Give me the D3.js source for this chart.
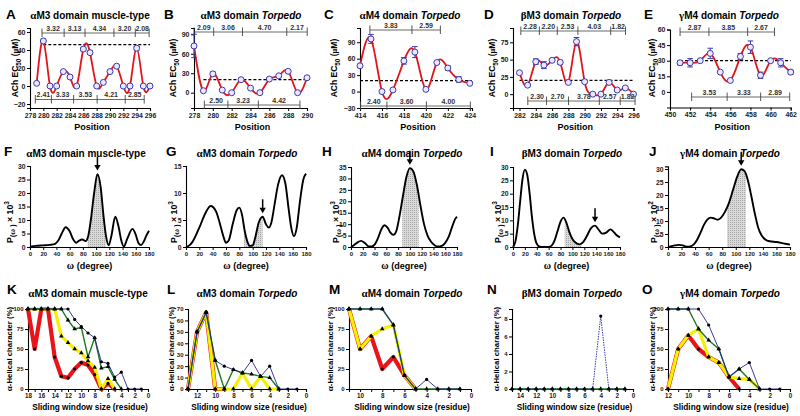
<!DOCTYPE html>
<html><head><meta charset="utf-8">
<script src="https://cdn.jsdelivr.net/npm/d3@7"></script>
<style>
html,body{margin:0;padding:0;background:#fff;overflow:hidden;}
</style></head><body>
<svg id="c" width="800" height="416"></svg>
<script>
// ---------- Row 1: ACh EC50 scans ----------
const aPos = [279,280,281,282,283,284,285,286,287,288,289,290,291,292,293,294,295,296];
const aVal = [3,50,0,0,16,10,0,41,37,0,4,16,22,0,0,42,0,0];
const aErr = [0,2,0,0,1,1,0,2,2,0,0,1,1,0,0,2,0,0];
const aThreshold = 46;
const aTopStart = 279.8, aTopGaps = [3.32,3.13,4.34,3.20,2.08];
const aBotStart = 278.8, aBotGaps = [2.41,3.33,3.53,4.21,2.85];

const bPos = [278,279,280,281,282,283,284,285,286,287,288,289,290];
const bVal = [72,3,29,4,0,20,7,0,21,26,33,0,23];
const bErr = [18,0,3,0,0,0,0,0,2,0,0,0,0];
const bThreshold = 20;
const bTopStart = 278.0, bTopGaps = [2.09,3.06,4.70,2.17];
const bBotStart = 279.1, bBotGaps = [2.50,3.23,4.42];

const cPos = [414,415,416,417,418,419,420,421,422,423,424];
const cVal = [47,96,0,3,56,72,4,53,43,22,15];
const cErr = [3,8,0,0,6,10,0,0,4,5,0];
const cThreshold = 20;
const cTopStart = 414.9, cTopGaps = [3.83,2.59];
const cBotStart = 414.05, cBotGaps = [2.40,3.60,4.00];

const dPos = [282,283,284,285,286,287,288,289,290,291,292,293,294,295,296];
const dVal = [31,13,47,42,49,46,17,76,18,0,0,17,6,9,0];
const dErr = [0,0,4,5,0,3,0,6,0,0,0,2,0,0,0];
const dThreshold = 20;
const dTopStart = 282.16, dTopGaps = [2.28,2.20,2.53,4.03,1.82];
const dBotStart = 283.02, dBotGaps = [2.30,2.70,3.78,2.57,1.82];

const ePos = [451,452,453,454,455,456,457,458,459,460,461,462];
const eVal = [28,28,30,37,19,11,34,43,16,30,28,19];
const eErr = [2,4,0,5,0,0,3,6,3,0,4,2];
const eThreshold = 30;
const eTopStart = 451.0, eTopGaps = [2.87,3.85,2.67];
const eBotStart = 452.15, eBotGaps = [3.53,3.33,2.89];

// ---------- Row 2: power spectra P(omega) ----------
const fDeg = [0,5,10,20,30,38,43,48,54,60,65,70,74,79,84,88,92,97,102,107,111,115,119,123,129,134,138,142,147,155,160,164,168,172,176,180];
const fP   = [0,0.3,0.45,0.6,0.8,1.2,2.5,5,7.3,5.8,3,1.6,2.3,2.8,2.2,4,10,20,27,22,12,4,0.6,4,11.2,7.5,2.5,0.2,3,6.7,4.5,1.5,0.7,2,4.2,6];
const fArrow = 102;

const gDeg = [0,5,10,20,30,37,45,52,56,60,64,70,76,80,84,88,92,96,100,104,109,115,120,124,128,133,138,144,149,154,158,162,166,171,176,180];
const gP   = [0,0.3,1,3.6,6.5,7.6,6.6,3.8,2,0.8,1.2,4.2,6.8,7.3,6,3,1,0.2,0.3,1.8,4.5,5.6,4.2,3.6,4.5,8,11.5,13.3,11.8,7,3.5,2,3.5,8.5,12.5,13.6];
const gArrow = 115;

const hDeg = [0,5,10,17,24,30,35,40,46,52,57,62,67,72,77,82,88,94,100,106,112,118,124,130,136,142,148,154,160,166,172,177,180];
const hP   = [0,0.8,1.8,2.7,1.6,0.3,0.2,1,4,8,9.5,8.5,6.3,5.3,7,13,22,30.5,34.5,33,27,18,10,5,2.3,0.8,0.2,0.5,1.8,4.5,9,12.3,13.2];
const hArrow = 100;

const iDeg = [0,4,8,12,16,20,24,28,32,36,40,45,50,60,65,70,75,80,85,90,95,100,105,112,118,124,131,138,144,150,156,164,170,175,180];
const iP   = [0,2,8,17,25.5,29,27,20,11,4.5,1.2,0.1,0,0,0.5,2.5,6,9.5,11,9,5.5,3,1.7,1,1.8,4,7,8,6.5,5,5.3,6.6,5.5,4.3,3.6];
const iArrow = 138;

const jDeg = [0,5,10,16,22,28,33,38,43,48,53,58,63,68,73,78,84,90,96,102,108,113,118,123,128,133,138,144,150,160,170,180];
const jP   = [0,0.3,0.6,0.8,0.6,0.1,0.2,1,2.8,5.5,8.5,10.5,11.3,11,10.5,11.2,13.5,17,22,27,29.9,29.2,25.5,19.5,13,7.5,4.5,2.8,2.2,1.9,1.4,0.9];
const jArrow = 108;

const bandRange = [87, 115];

// ---------- Row 3: alpha-helical character ----------
const kWin    = [18,17,16,15,14,13,12,11,10,9,8,7,6,5,4,3,2,1];
const kRed    = [100,50,100,100,40,16,14,25,33,30,18,0,7,0,null,null,null,null];
const kYellow = [100,100,100,100,100,66,58,50,45,35,27,0,13,0,null,null,null,null];
const kGreen  = [100,100,100,100,100,100,86,75,77,40,64,26,28,12,0,null,null,null];
const kBlue   = [100,100,100,100,100,100,100,87,78,70,64,34,32,15,21,0,0,0];

const lWin    = [13,12,11,10,9,8,7,6,5,4,3,2,1];
const lRed    = [0,50,67,0,0,null,null,null,null,null,null,null,null];
const lYellow = [0,50,67,0,0,0,14,0,11,0,0,null,null];
const lGreen  = [0,50,67,25,0,17,14,13,11,10,0,null,null];
const lBlue   = [0,50,67,25,20,17,14,25,11,20,0,0,0];

const mWin    = [11,10,9,8,7,6,5,4,3,2,1];
const mRed    = [100,50,66,25,40,17,0,null,null,null,null];
const mYellow = [100,50,66,75,80,17,0,null,null,null,null];
const mGreen  = [100,100,100,100,80,17,0,0,0,0,0];
const mBlue   = [100,100,100,100,80,17,0,12,0,0,0];

const nWin    = [15,14,13,12,11,10,9,8,7,6,5,4,3,2,1];
const nGreen  = [0,0,0,0,0,0,0,0,0,0,0,0,0,0,0];
const nBlue   = [0,0,0,0,0,0,0,0,0,0,0,8.33,0,0,0];

const oWin    = [12,11,10,9,8,7,6,5,4,3,2,1];
const oRed    = [0,50,67,50,40,33,15,0,null,null,null,null];
const oYellow = [0,50,67,75,40,33,15,13,12,0,null,null];
const oGreen  = [100,100,100,75,61,50,15,25,12,0,null,null];
const oBlue   = [100,100,100,100,80,50,15,25,33,0,0,0];

// ---------- drawing ----------
const FONT = '"Liberation Sans", Arial, Helvetica, sans-serif';
const SERIF = '"Liberation Serif", "Times New Roman", serif';
const svg = d3.select("#c");

const defs = svg.append("defs");
const pat = defs.append("pattern").attr("id","dots").attr("patternUnits","userSpaceOnUse").attr("width",2).attr("height",2);
pat.append("rect").attr("width",2).attr("height",2).attr("fill","#d9d9d9");
pat.append("rect").attr("width",1).attr("height",1).attr("fill","#a8a8a8");

function styleAxis(g, fs) {
  g.attr("font-family", FONT).attr("font-size", fs).attr("font-weight", "bold");
  g.selectAll("path.domain").attr("stroke", "#000").attr("stroke-width", 1.1);
  g.selectAll(".tick line").attr("stroke", "#000").attr("stroke-width", 1);
  g.selectAll(".tick text").attr("fill", "#222");
}

function drawAxes(x, y, xTicks, yTicks, fsx, fsy, xFmt) {
  const x0 = Math.min(...x.range()), yb = Math.max(...y.range());
  const xa = d3.axisBottom(x).tickValues(xTicks).tickSizeOuter(0).tickSize(3).tickPadding(2);
  if (xFmt) xa.tickFormat(xFmt);
  const ya = d3.axisLeft(y).tickValues(yTicks).tickSizeOuter(0).tickSize(3).tickPadding(1.5);
  svg.append("g").attr("transform", `translate(0,${yb})`).call(xa).call(g => styleAxis(g, fsx));
  svg.append("g").attr("transform", `translate(${x0},0)`).call(ya).call(g => styleAxis(g, fsy));
}

function letter(x, y, s) {
  svg.append("text").attr("x", x).attr("y", y).attr("font-family", FONT).attr("font-weight","bold")
    .attr("font-size", 13.5).text(s);
}
function title(cx, y, greek, rest, ital) {
  const t = svg.append("text").attr("x", cx).attr("y", y).attr("text-anchor","middle")
    .attr("font-family", FONT).attr("font-weight","bold").attr("font-size", 10);
  t.append("tspan").attr("font-family", SERIF).attr("font-size", 11).text(greek);
  t.append("tspan").text(rest);
  if (ital) t.append("tspan").attr("font-style","italic").text(ital);
}
function xTitle(cx, y, parts, fs) {
  const t = svg.append("text").attr("x", cx).attr("y", y).attr("text-anchor","middle")
    .attr("font-family", FONT).attr("font-weight","bold").attr("font-size", fs);
  parts.forEach(p => { const s = t.append("tspan").text(p.t); if (p.serif) s.attr("font-family", SERIF).attr("font-size", fs + 1); });
}
function yTitle(x, cy, build, fs) {
  const t = svg.append("text").attr("transform", `translate(${x},${cy}) rotate(-90)`).attr("text-anchor","middle")
    .attr("font-family", FONT).attr("font-weight","bold").attr("font-size", fs);
  build(t);
}

// ---- Row 1 ----
function bracket(x, start, gaps, yLine) {
  const bounds = [start];
  gaps.forEach(g => bounds.push(bounds[bounds.length - 1] + g));
  const g = svg.append("g");
  g.append("line").attr("x1", x(bounds[0])).attr("x2", x(bounds[bounds.length-1]))
    .attr("y1", yLine).attr("y2", yLine).attr("stroke", "#444").attr("stroke-width", 0.8);
  bounds.forEach(b => g.append("line").attr("x1", x(b)).attr("x2", x(b)).attr("y1", yLine - 4.5).attr("y2", yLine + 4)
    .attr("stroke", "#444").attr("stroke-width", 0.9));
  gaps.forEach((gp, i) => g.append("text").attr("x", (x(bounds[i]) + x(bounds[i+1])) / 2).attr("y", yLine - 2.2)
    .attr("text-anchor","middle").attr("font-family", FONT).attr("font-weight","bold").attr("font-size", 7)
    .attr("fill", "#333").text(d3.format(".2f")(gp)));
}

function scan(p) {
  const x = d3.scaleLinear().domain(p.xd).range(p.xr);
  const y = d3.scaleLinear().domain(p.yd).range(p.yr);
  drawAxes(x, y, p.xTicks, p.yTicks, 6.9, 7);
  svg.append("line").attr("x1", x(p.dash[0])).attr("x2", x(p.dash[1]))
    .attr("y1", y(p.thr)).attr("y2", y(p.thr)).attr("stroke", "#000").attr("stroke-width", 1.3).attr("stroke-dasharray", "3,2");
  const data = d3.zip(p.pos, p.val, p.err);
  svg.append("path").datum(data).attr("fill","none").attr("stroke","#e0161c").attr("stroke-width",1.8)
    .attr("d", d3.line().x(d => x(d[0])).y(d => y(d[1])).curve(d3.curveNatural));
  const eb = svg.append("g").attr("stroke", "#3a3ab0").attr("stroke-width", 1);
  data.filter(d => d[2] > 0).forEach(d => {
    eb.append("line").attr("x1", x(d[0])).attr("x2", x(d[0])).attr("y1", y(d[1]-d[2])).attr("y2", y(d[1]+d[2]));
    [d[1]-d[2], d[1]+d[2]].forEach(v => eb.append("line").attr("x1", x(d[0])-2.8).attr("x2", x(d[0])+2.8).attr("y1", y(v)).attr("y2", y(v)));
  });
  svg.append("g").selectAll("circle").data(data).join("circle")
    .attr("cx", d => x(d[0])).attr("cy", d => y(d[1])).attr("r", 3)
    .attr("fill", "#ece7fb").attr("stroke", "#3a3ab0").attr("stroke-width", 1);
  bracket(x, p.top[0], p.top[1], p.topY);
  bracket(x, p.bot[0], p.bot[1], p.botY);
  letter(p.letter[0], 18.5, p.letter[1]);
  title(p.tx, 18.5, p.title[0], p.title[1], p.title[2]);
  xTitle((p.xr[0] + p.xr[1]) / 2 + 2, 130, [{t: "Position"}], 9);
  yTitle(p.ylx, 68, t => {
    t.append("tspan").text("ACh EC");
    t.append("tspan").attr("font-size", 6.3).attr("dy", 2.5).text("50");
    t.append("tspan").attr("dy", -2.5).text(" (");
    t.append("tspan").attr("font-family", SERIF).text("μ");
    t.append("tspan").text("M)");
  }, 8.5);
}
const ev = (a, b) => d3.range(a, b + 0.001, 2);

scan({pos:aPos,val:aVal,err:aErr,thr:aThreshold,dash:[280,296],top:[aTopStart,aTopGaps],bot:[aBotStart,aBotGaps],
  xd:[278,296],xr:[30,150],yd:[-24.4,64.4],yr:[108,28],xTicks:ev(278,296),yTicks:[-20,0,20,40,60],
  topY:33,botY:99.5,letter:[6,"A"],tx:90,title:["α","M3 domain muscle-type",""],ylx:18});
scan({pos:bPos,val:bVal,err:bErr,thr:bThreshold,dash:[279,290],top:[bTopStart,bTopGaps],bot:[bBotStart,bBotGaps],
  xd:[278,290],xr:[194,307],yd:[-23.6,99.7],yr:[108,28],xTicks:ev(278,290),yTicks:[0,30,60,90],
  topY:32,botY:105,letter:[164,"B"],tx:251,title:["α","M3 domain  ","Torpedo"],ylx:176});
scan({pos:cPos,val:cVal,err:cErr,thr:cThreshold,dash:[414,424.2],top:[cTopStart,cTopGaps],bot:[cBotStart,cBotGaps],
  xd:[414,424.2],xr:[360,472],yd:[-30,116],yr:[108,28],xTicks:ev(414,424),yTicks:[-30,0,30,60,90],
  topY:30,botY:106,letter:[324,"C"],tx:410,title:["α","M4 domain  ","Torpedo"],ylx:337});
scan({pos:dPos,val:dVal,err:dErr,thr:dThreshold,dash:[282,296],top:[dTopStart,dTopGaps],bot:[dBotStart,dBotGaps],
  xd:[281.2,296],xr:[513,633.5],yd:[-20,95.7],yr:[108,28],xTicks:ev(282,296),yTicks:[0,25,50,75],
  topY:31,botY:101,letter:[484,"D"],tx:571,title:["β","M3 domain  ","Torpedo"],ylx:495});
scan({pos:ePos,val:eVal,err:eErr,thr:eThreshold,dash:[451,462],top:[eTopStart,eTopGaps],bot:[eBotStart,eBotGaps],
  xd:[450,462],xr:[670,790.7],yd:[-15,60],yr:[107.5,29.5],xTicks:ev(450,462),yTicks:[0,15,30,45,60],
  topY:32,botY:97,letter:[644,"E"],tx:729,title:["γ","M4 domain  ","Torpedo"],ylx:655});

// ---- Row 2 ----
let clipId = 0;
function spectrum(p) {
  const x = d3.scaleLinear().domain([0,180]).range(p.xr);
  const y = d3.scaleLinear().domain(p.yd).range([247, p.yTop]);
  const data = d3.zip(p.deg, p.val);
  const id = "clip" + (clipId++);
  defs.append("clipPath").attr("id", id).append("rect")
    .attr("x", x(bandRange[0])).attr("width", x(bandRange[1]) - x(bandRange[0])).attr("y", 0).attr("height", 416);
  svg.append("path").datum(data).attr("clip-path", `url(#${id})`).attr("fill", "url(#dots)")
    .attr("d", d3.area().x(d => x(d[0])).y0(y(0)).y1(d => y(d[1])).curve(d3.curveMonotoneX));
  drawAxes(x, y, d3.range(0, 181, 20), p.yTicks, 6, 6.8);
  svg.append("path").datum(data).attr("fill","none").attr("stroke","#000").attr("stroke-width",1.9)
    .attr("d", d3.line().x(d => x(d[0])).y(d => y(d[1])).curve(d3.curveMonotoneX));
  // arrow
  const i = d3.bisector(d => d[0]).left(data, p.arrow);
  const a = data[Math.max(i-1,0)], b = data[i];
  const v = b[0] === a[0] ? b[1] : a[1] + (b[1]-a[1]) * (p.arrow - a[0]) / (b[0]-a[0]);
  const ax = x(p.arrow), tip = y(v) - 3.5;
  svg.append("line").attr("x1", ax).attr("x2", ax).attr("y1", tip - 14).attr("y2", tip - 4).attr("stroke","#000").attr("stroke-width",1.5);
  svg.append("path").attr("d", `M${ax-3.2},${tip-5.5}L${ax+3.2},${tip-5.5}L${ax},${tip}Z`).attr("fill","#000");
  letter(p.letter[0], 156, p.letter[1]);
  title(p.tx, 157, p.title[0], p.title[1], p.title[2]);
  xTitle((p.xr[0] + p.xr[1]) / 2, 268.5, [{t:"ω", serif:true},{t:"  (degree)"}], 9);
  yTitle(p.ylx, 222, t => {
    t.append("tspan").text("P");
    t.append("tspan").attr("font-size", 7).attr("dy", 1.5).text("(");
    t.append("tspan").attr("font-family", SERIF).attr("font-size", 8).text("ω");
    t.append("tspan").attr("font-size", 7).text(" )");
    t.append("tspan").attr("dy", -1.5).text(" × 10");
    t.append("tspan").attr("font-size", 6.5).attr("dy", -4).text(p.exp);
  }, 8.8);
}
spectrum({deg:fDeg,val:fP,arrow:fArrow,xr:[30,149],yd:[0,30],yTop:166,yTicks:[0,5,10,15,20,25,30],
  letter:[4,"F"],tx:86,title:["α","M3 domain muscle-type",""],ylx:13,exp:"3"});
spectrum({deg:gDeg,val:gP,arrow:gArrow,xr:[186,306],yd:[0,15],yTop:166,yTicks:[0,5,10,15],
  letter:[166,"G"],tx:247,title:["α","M3 domain  ","Torpedo"],ylx:177,exp:"3"});
spectrum({deg:hDeg,val:hP,arrow:hArrow,xr:[351,457],yd:[0,35],yTop:167,yTicks:[0,5,10,15,20,25,30,35],
  letter:[322,"H"],tx:412,title:["α","M4 domain  ","Torpedo"],ylx:339,exp:"3"});
spectrum({deg:iDeg,val:iP,arrow:iArrow,xr:[513,620],yd:[0,30],yTop:167,yTicks:[0,5,10,15,20,25,30],
  letter:[490,"I"],tx:572,title:["β","M3 domain  ","Torpedo"],ylx:501,exp:"3"});
spectrum({deg:jDeg,val:jP,arrow:jArrow,xr:[668,790],yd:[0,31],yTop:166.4,yTicks:[0,5,10,15,20,25,30],
  letter:[649,"J"],tx:730,title:["γ","M4 domain  ","Torpedo"],ylx:657,exp:"2"});

// ---- Row 3 ----
function helix(p) {
  const x = d3.scaleLinear().domain([p.win[0], 0]).range(p.xr);
  const y = d3.scaleLinear().domain(p.yd).range([389, 309]);
  drawAxes(x, y, d3.range(0, p.win[0] + 1), p.yTicks, 6.3, 6, d => d % 2 === 0 ? d : "");
  const series = [
    {v: p.red, c: "#e8141a", w: 4.2, m: "c"},
    {v: p.yellow, c: "#f4f000", w: 3.2, m: "t"},
    {v: p.green, c: "#1c7a1c", w: 1.4, m: "t"},
    {v: p.blue, c: "#25259a", w: 0.9, m: "c", dash: p.blueDash}
  ].filter(s => s.v);
  series.forEach(s => {
    const data = d3.zip(p.win, s.v);
    const path = svg.append("path").datum(data).attr("fill","none").attr("stroke", s.c).attr("stroke-width", s.w)
      .attr("stroke-linejoin","round")
      .attr("d", d3.line().defined(d => d[1] !== null).x(d => x(d[0])).y(d => y(d[1])));
    if (s.dash) path.attr("stroke-dasharray", s.dash);
  });
  series.forEach(s => {
    const pts = d3.zip(p.win, s.v).filter(d => d[1] !== null);
    const g = svg.append("g").attr("fill", "#000");
    pts.forEach(d => {
      if (s.m === "c") g.append("circle").attr("cx", x(d[0])).attr("cy", y(d[1])).attr("r", 1.6);
      else g.append("path").attr("transform", `translate(${x(d[0])},${y(d[1])})`).attr("d", d3.symbol(d3.symbolTriangle, 9)());
    });
  });
  letter(p.letter[0], 294, p.letter[1]);
  title(p.tx, 297, p.title[0], p.title[1], p.title[2]);
  xTitle((p.xr[0] + p.xr[1]) / 2 + 2, 409.5, [{t:"Sliding window size (residue)"}], 8.3);
  yTitle(p.ylx, 349, t => {
    t.append("tspan").attr("font-family", SERIF).attr("font-size", 9).text("α");
    t.append("tspan").text("-Helical character (%)");
  }, 7.8);
}
helix({win:kWin,red:kRed,yellow:kYellow,green:kGreen,blue:kBlue,xr:[28,148],yd:[0,100],yTicks:[0,25,50,75,100],
  letter:[7,"K"],tx:88,title:["α","M3 domain muscle-type",""],ylx:12});
helix({win:lWin,red:lRed,yellow:lYellow,green:lGreen,blue:lBlue,xr:[188,306],yd:[0,70],yTicks:[0,10,20,30,40,50,60,70],
  letter:[167,"L"],tx:247,title:["α","M3 domain  ","Torpedo"],ylx:174});
helix({win:mWin,red:mRed,yellow:mYellow,green:mGreen,blue:mBlue,xr:[349,471],yd:[0,100],yTicks:[0,25,50,75,100],
  letter:[329,"M"],tx:412,title:["α","M4 domain  ","Torpedo"],ylx:333});
helix({win:nWin,red:null,yellow:null,green:nGreen,blue:nBlue,blueDash:"1.5,1",xr:[512,633],yd:[0,9.14],yTicks:[0,2,4,6,8],
  letter:[487,"N"],tx:572,title:["β","M3 domain  ","Torpedo"],ylx:499});
helix({win:oWin,red:oRed,yellow:oYellow,green:oGreen,blue:oBlue,xr:[668,790],yd:[0,100],yTicks:[0,25,50,75,100],
  letter:[642,"O"],tx:730,title:["γ","M4 domain  ","Torpedo"],ylx:655});
</script>
</body></html>
